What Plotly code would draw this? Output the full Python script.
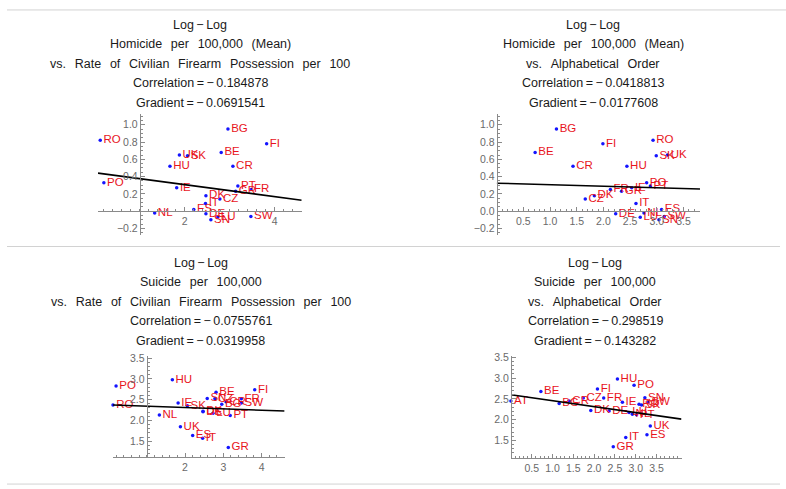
import plotly.graph_objects as go

# country codes, alphabetical; AT only has suicide data
countries = ["AT", "BE", "BG", "CR", "CZ", "DK", "FI", "FR", "DE", "GR", "HU", "IE",
             "IT", "LU", "NL", "PO", "PT", "RO", "SK", "SN", "ES", "SW", "UK"]

# log of civilian firearms per 100
log_guns = [None, 2.81, 2.96, 3.07, 2.78, 2.47, 3.82, 3.47, 2.47, 3.13, 1.67, 1.82,
            2.46, 2.73, 1.33, 0.20, 3.18, 0.12, 2.06, 2.58, 2.20, 3.47, 1.88]
# log of homicide per 100,000 (mean)
log_homicide = [None, 0.68, 0.95, 0.52, 0.14, 0.18, 0.78, 0.25, -0.03, 0.23, 0.52, 0.27,
                0.09, -0.07, -0.02, 0.33, 0.29, 0.82, 0.64, -0.10, 0.02, -0.06, 0.65]
# log of suicide per 100,000
log_suicide = [2.45, 2.68, 2.39, 2.45, 2.52, 2.22, 2.74, 2.52, 2.21, 1.35, 2.98, 2.42,
               1.57, 2.17, 2.13, 2.83, 2.12, 2.37, 2.35, 2.53, 1.64, 2.42, 1.85]
# log of alphabetical order (homicide set / suicide set)
log_alpha_hom = [None, 0.72, 1.12, 1.43, 1.66, 1.83, 1.99, 2.13, 2.23, 2.34, 2.44, 2.53,
                 2.61, 2.69, 2.76, 2.81, 2.88, 2.93, 2.99, 3.04, 3.09, 3.14, 3.20]
log_alpha_sui = [0.0, 0.72, 1.16, 1.40, 1.74, 1.92, 2.08, 2.23, 2.36, 2.46, 2.56, 2.68,
                 2.76, 2.84, 2.92, 2.96, 3.02, 3.08, 3.14, 3.22, 3.27, 3.30, 3.35]

fit_gradient = [-0.0691541, -0.0177608, -0.0319958, -0.143282]
fit_intercept = [0.445, 0.324, 2.374, 2.60]

titles = [
    ["Log\u2009\u2212\u2009Log", "Homicide per 100,000 (Mean)",
     "vs. Rate of Civilian Firearm Possession per 100",
     "Correlation\u2009=\u2009\u2212\u20090.184878", "Gradient\u2009=\u2009\u2212\u20090.0691541"],
    ["Log\u2009\u2212\u2009Log", "Homicide per 100,000 (Mean)", "vs. Alphabetical Order",
     "Correlation\u2009=\u2009\u2212\u20090.0418813", "Gradient\u2009=\u2009\u2212\u20090.0177608"],
    ["Log\u2009\u2212\u2009Log", "Suicide per 100,000",
     "vs. Rate of Civilian Firearm Possession per 100",
     "Correlation\u2009=\u2009\u2212\u20090.0755761", "Gradient\u2009=\u2009\u2212\u20090.0319958"],
    ["Log\u2009\u2212\u2009Log", "Suicide per 100,000", "vs. Alphabetical Order",
     "Correlation\u2009=\u2009\u2212\u20090.298519", "Gradient\u2009=\u2009\u2212\u20090.143282"],
]

W, H = 786, 489
FONT = "Liberation Sans"
WORD_GAP = "\u2002\u2009"  # Mathematica-style wide word spacing

# pixel boxes (left, right, top, bottom), data ranges, axes origin, ticks
panels = [
    dict(xs=log_guns, ys=log_homicide, box=(98, 301.7, 110.5, 231.9),
         xr=[0.07, 4.6], yr=[-0.27, 1.12], origin=(1, 0),
         xt=[2, 4], xminor=0.2, yt=[-0.2, 0.2, 0.4, 0.6, 0.8, 1.0], yminor=0.05,
         xfmt="d", yfmt=".1f", tx=200, ty=20),
    dict(xs=log_alpha_hom, ys=log_homicide, box=(496.7, 700, 110.5, 231.9),
         xr=[0, 3.81], yr=[-0.27, 1.12], origin=(0, 0),
         xt=[0.5, 1.0, 1.5, 2.0, 2.5, 3.0, 3.5], xminor=0.1,
         yt=[-0.2, 0.0, 0.2, 0.4, 0.6, 0.8, 1.0], yminor=0.05,
         xfmt=".1f", yfmt=".1f", tx=593, ty=20),
    dict(xs=log_guns, ys=log_suicide, box=(113, 284.6, 354.6, 457.1),
         xr=[0.12, 4.6], yr=[1.11, 3.55], origin=(1, 1.11),
         xt=[2, 3, 4], xminor=0.2, yt=[1.5, 2.0, 2.5, 3.0, 3.5], yminor=0.1,
         xfmt="d", yfmt=".1f", tx=201, ty=260.5),
    dict(xs=log_alpha_sui, ys=log_suicide, box=(510.9, 681.5, 354.7, 457.6),
         xr=[0, 4.1], yr=[1.08, 3.53], origin=(0, 1.08),
         xt=[0.5, 1.0, 1.5, 2.0, 2.5, 3.0, 3.5], xminor=0.1,
         yt=[1.5, 2.0, 2.5, 3.0, 3.5], yminor=0.1,
         xfmt=".1f", yfmt=".1f", tx=595, ty=260.5),
]

fig = go.Figure()
layout = {}
annotations = []

for i, p in enumerate(panels):
    n = "" if i == 0 else str(i + 1)
    l, r, t, b = p["box"]
    x0, x1 = p["xr"]
    y0, y1 = p["yr"]
    ox, oy = p["origin"]
    # where the axes cross, in paper coords
    ox_px = l + (ox - x0) / (x1 - x0) * (r - l)
    oy_px = b - (oy - y0) / (y1 - y0) * (b - t)

    pts = [(c, x, y) for c, x, y in zip(countries, p["xs"], p["ys"]) if x is not None and y is not None]
    fig.add_trace(go.Scatter(
        x=[q[1] for q in pts], y=[q[2] for q in pts], text=[q[0] for q in pts],
        mode="markers+text", textposition="middle right",
        textfont=dict(family=FONT, size=11.5, color="#e8141c"),
        marker=dict(size=3.5, color="#1414ff"),
        cliponaxis=False, showlegend=False, xaxis="x" + n, yaxis="y" + n,
    ))
    # fit line across the plot range
    fig.add_trace(go.Scatter(
        x=[x0, x1], y=[fit_intercept[i] + fit_gradient[i] * x0, fit_intercept[i] + fit_gradient[i] * x1],
        mode="lines", line=dict(color="black", width=1.6),
        showlegend=False, xaxis="x" + n, yaxis="y" + n,
    ))

    common = dict(showgrid=False, zeroline=False, showline=True, linecolor="#8a8a8a",
                  linewidth=1, ticks="inside", ticklen=4, tickcolor="#8a8a8a",
                  tickfont=dict(family=FONT, size=10.5, color="#6a6a6a"),
                  anchor="free", fixedrange=True)
    layout["xaxis" + n] = dict(common, domain=[l / W, r / W], range=[x0, x1],
                               position=1 - oy_px / H, tickmode="array", tickvals=p["xt"],
                               tickformat=p["xfmt"],
                               minor=dict(ticks="inside", ticklen=2, tickcolor="#8a8a8a",
                                          tickmode="linear", tick0=0, dtick=p["xminor"]))
    layout["yaxis" + n] = dict(common, domain=[1 - b / H, 1 - t / H], range=[y0, y1],
                               position=ox_px / W, tickmode="array", tickvals=p["yt"],
                               tickformat=p["yfmt"],
                               minor=dict(ticks="inside", ticklen=2, tickcolor="#8a8a8a",
                                          tickmode="linear", tick0=0, dtick=p["yminor"]))

    for k, line in enumerate(titles[i]):
        annotations.append(dict(
            text=line.replace(" ", WORD_GAP), x=p["tx"] / W, y=1 - (p["ty"] + k * 19.7) / H,
            xref="paper", yref="paper", xanchor="center", yanchor="middle",
            showarrow=False, font=dict(family=FONT, size=12.5, color="#1a1a1a"),
        ))

shapes = []
for y_px, x_end in [(5, 786), (244, 780), (484, 780)]:
    shapes.append(dict(type="line", xref="paper", yref="paper",
                       x0=7 / W, x1=x_end / W, y0=1 - y_px / H, y1=1 - y_px / H,
                       line=dict(color="#d2d2d2", width=1)))

fig.update_layout(
    width=W, height=H,
    margin=dict(l=0, r=0, t=0, b=0),
    paper_bgcolor="white", plot_bgcolor="white",
    annotations=annotations, shapes=shapes,
    **layout,
)

# page body has a default 8px margin; drop it so the figure sits at 0,0
fig.write_html("out.html", config={"displayModeBar": False},
               post_script="document.body.style.margin='0';document.body.style.overflow='hidden';")
